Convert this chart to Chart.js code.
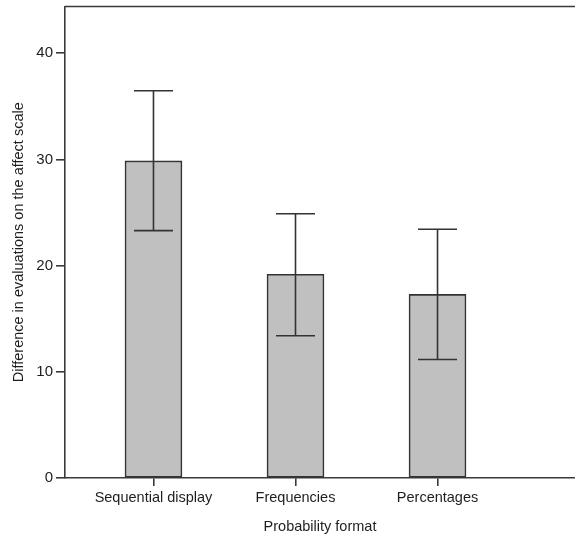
<!DOCTYPE html>
<html>
<head>
<meta charset="utf-8">
<script src="https://cdn.jsdelivr.net/npm/chart.js@4/dist/chart.umd.min.js"></script>
<style>
html,body{margin:0;padding:0;background:#fff;overflow:hidden;}
#wrap{width:575px;height:536px;position:relative;}
</style>
</head>
<body>
<div id="wrap"><canvas id="c" width="575" height="536"></canvas></div>
<script>
const categories = ["Sequential display", "Frequencies", "Percentages"];
const means = [29.86, 19.18, 17.29];
const upperCI = [36.46, 24.89, 23.42];
const lowerCI = [23.29, 13.39, 11.16];
const yTicks = [0, 10, 20, 30, 40];

const AX = '#3a3a3a';
const TXT = '#1e1e1e';
const FONT = '"Liberation Sans", Arial, sans-serif';

const errorBars = {
  id: 'errorBars',
  afterDatasetsDraw(chart) {
    const {ctx, scales: {x, y}} = chart;
    ctx.save();
    ctx.strokeStyle = '#333';
    ctx.lineWidth = 1.6;
    categories.forEach((c, i) => {
      const px = x.getPixelForValue(i);
      const yt = y.getPixelForValue(upperCI[i]);
      const yb = y.getPixelForValue(lowerCI[i]);
      const hw = 19.5;
      ctx.beginPath();
      ctx.moveTo(px, yt); ctx.lineTo(px, yb);
      ctx.moveTo(px - hw, yt); ctx.lineTo(px + hw, yt);
      ctx.moveTo(px - hw, yb); ctx.lineTo(px + hw, yb);
      ctx.stroke();
    });
    // top frame line
    const ca = chart.chartArea;
    ctx.strokeStyle = AX;
    ctx.lineWidth = 1.6;
    ctx.beginPath();
    ctx.moveTo(ca.left, ca.top); ctx.lineTo(chart.width, ca.top);
    ctx.stroke();
    ctx.restore();
  }
};

new Chart(document.getElementById('c'), {
  type: 'bar',
  data: {
    datasets: [{
      data: categories.map((c, i) => ({x: i, y: means[i]})),
      backgroundColor: '#c0c0c0',
      borderColor: '#333',
      borderWidth: 1.6,
      borderSkipped: false,
      barThickness: 57
    }]
  },
  options: {
    responsive: false,
    animation: false,
    layout: {padding: {top: 6.5, right: 0, left: 0, bottom: 0}},
    plugins: {legend: {display: false}, tooltip: {enabled: false}},
    scales: {
      x: {
        type: 'linear',
        offset: false,
        min: -0.623,
        max: 2.968,
        afterBuildTicks(scale) { scale.ticks = categories.map((c, i) => ({value: i})); },
        afterFit(scale) { scale.height = 58; scale.paddingLeft = 0; scale.paddingRight = 0; },
        ticks: {
          autoSkip: false,
          maxRotation: 0,
          padding: 3,
          color: TXT,
          font: {family: FONT, size: 14.5},
          callback: (v) => categories[v]
        },
        grid: {offset: false, drawOnChartArea: false, tickLength: 8, color: AX, lineWidth: 1.6},
        border: {color: AX, width: 1.6},
        title: {
          display: true,
          text: 'Probability format',
          color: TXT,
          font: {family: FONT, size: 14.5},
          padding: {top: 8, bottom: 0}
        }
      },
      y: {
        min: 0,
        max: 44.4,
        afterBuildTicks(scale) { scale.ticks = yTicks.map(v => ({value: v})); },
        afterFit(scale) { scale.width = 65; scale.paddingTop = 0; scale.paddingBottom = 0; },
        ticks: {
          padding: 3,
          color: TXT,
          font: {family: FONT, size: 15}
        },
        grid: {drawOnChartArea: false, tickLength: 9, color: AX, lineWidth: 1.6},
        border: {color: AX, width: 1.6},
        title: {
          display: true,
          text: 'Difference in evaluations on the affect scale',
          color: TXT,
          font: {family: FONT, size: 14.5},
          padding: {top: 10, bottom: 0}
        }
      }
    }
  },
  plugins: [errorBars]
});
</script>
</body>
</html>
